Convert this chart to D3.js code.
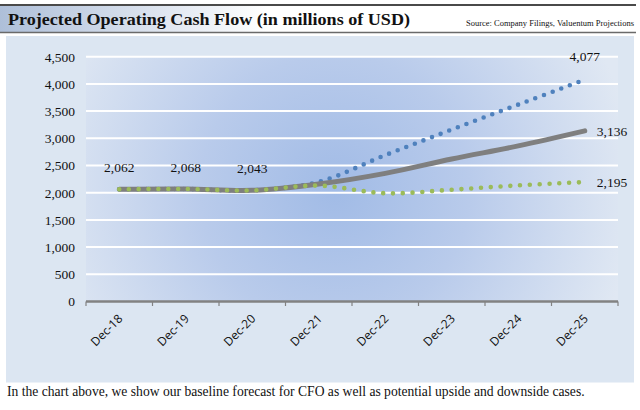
<!DOCTYPE html>
<html><head><meta charset="utf-8">
<script src="https://cdn.jsdelivr.net/npm/d3@7"></script>
<style>html,body{margin:0;padding:0;background:#fff;}svg{display:block;}</style>
</head><body>
<svg id="c" width="640" height="410"></svg>
<script>
const categories = ["Dec-18","Dec-19","Dec-20","Dec-21","Dec-22","Dec-23","Dec-24","Dec-25"];
const baseCase = [2062, 2068, 2043, 2160, 2355, 2620, 2860, 3136];
const upsideCase = [2062, 2068, 2043, 2200, 2690, 3160, 3620, 4077];
const downsideCase = [2062, 2068, 2043, 2130, 1990, 2055, 2135, 2195];
const yTicks = [0, 500, 1000, 1500, 2000, 2500, 3000, 3500, 4000, 4500];
const titleText = "Projected Operating Cash Flow (in millions of USD)";
const sourceText = "Source: Company Filings, Valuentum Projections";
const captionText = "In the chart above, we show our baseline forecast for CFO as well as potential upside and downside cases.";

const svg = d3.select("#c");
const defs = svg.append("defs");
const hg = defs.append("linearGradient").attr("id","hg").attr("x1","0").attr("x2","1").attr("y1","0").attr("y2","0");
hg.append("stop").attr("offset","0").attr("stop-color","#aebfd9");
hg.append("stop").attr("offset","0.42").attr("stop-color","#ffffff");
hg.append("stop").attr("offset","1").attr("stop-color","#ffffff");
const rg = defs.append("radialGradient").attr("id","rg").attr("gradientUnits","userSpaceOnUse")
  .attr("cx",335).attr("cy",190).attr("r",300).attr("fx",335).attr("fy",190);
rg.append("stop").attr("offset","0").attr("stop-color","#a1bbe6");
rg.append("stop").attr("offset","0.45").attr("stop-color","#b9cbeb");
rg.append("stop").attr("offset","1").attr("stop-color","#e0e8f3");

// header
svg.append("rect").attr("x",0).attr("y",5).attr("width",636).attr("height",27).attr("fill","url(#hg)");
svg.append("line").attr("x1",0).attr("x2",636).attr("y1",5).attr("y2",5).attr("stroke","#4a4a4a").attr("stroke-width",2);
svg.append("line").attr("x1",0).attr("x2",636).attr("y1",32.5).attr("y2",32.5).attr("stroke","#6a6a6a").attr("stroke-width",1.5);
svg.append("text").attr("x",8).attr("y",25).attr("font-family","Liberation Serif").attr("font-weight","bold")
  .attr("font-size",17.5).attr("fill","#111").attr("textLength",402).attr("lengthAdjust","spacingAndGlyphs").text(titleText);
svg.append("text").attr("x",634).attr("y",26).attr("text-anchor","end").attr("font-family","Liberation Serif")
  .attr("font-size",8).attr("fill","#111").attr("textLength",168).attr("lengthAdjust","spacingAndGlyphs").text(sourceText);

// panel
svg.append("rect").attr("x",6).attr("y",36).attr("width",628).attr("height",346.5).attr("fill","#dce6f2");

const x = d3.scaleBand().domain(categories).range([86, 618]);
const y = d3.scaleLinear().domain([0, 4500]).range([301.5, 56.7]);

svg.append("rect").attr("x",86).attr("y",y(4500)).attr("width",532).attr("height",y(0)-y(4500)).attr("fill","url(#rg)");

// gridlines
svg.append("g").selectAll("line").data(yTicks.filter(d=>d>0)).join("line")
  .attr("x1",86).attr("x2",618).attr("y1",d=>y(d)).attr("y2",d=>y(d))
  .attr("stroke","#ffffff").attr("stroke-width",2);

// y axis labels
const yAxis = d3.axisLeft(y).tickValues(yTicks).tickFormat(d3.format(",")).tickSize(0).tickPadding(11);
const gy = svg.append("g").attr("transform","translate(86,0)").call(yAxis);
gy.select(".domain").remove();
gy.selectAll("text").attr("font-family","Liberation Serif").attr("font-size",13.5).attr("fill","#111");

// x axis
const xAxis = d3.axisBottom(x).tickSize(0).tickPadding(0);
const gx = svg.append("g").attr("transform","translate(0,301.5)").call(xAxis);
gx.select(".domain").remove();
gx.selectAll("text").attr("font-family","Open Sans").attr("font-size",12).attr("fill","#111")
  .attr("text-anchor","end").attr("dy",0)
  .attr("transform", function(){ return "translate(4,18) rotate(-45)"; });
// axis line & ticks
svg.append("line").attr("x1",86).attr("x2",618).attr("y1",301.5).attr("y2",301.5).attr("stroke","#828282").attr("stroke-width",2.5);
const edges = categories.map(c=>x(c)).concat([x(categories[categories.length-1])+x.bandwidth()]);
svg.append("g").selectAll("line").data(edges).join("line")
  .attr("x1",d=>d).attr("x2",d=>d).attr("y1",301.5).attr("y2",306).attr("stroke","#828282").attr("stroke-width",1.2);

const cx = c => x(c) + x.bandwidth()/2;
const line = d3.line().x((d,i)=>cx(categories[i])).y(d=>y(d)).curve(d3.curveCatmullRom.alpha(0.5));

svg.append("path").datum(upsideCase).attr("d",line).attr("fill","none").attr("stroke","#4f81bd")
  .attr("stroke-width",4.6).attr("stroke-linecap","round").attr("stroke-dasharray","0 9.2");
svg.append("path").datum(baseCase).attr("d",line).attr("fill","none").attr("stroke","#7f7f7f")
  .attr("stroke-width",5).attr("stroke-linecap","round");
svg.append("path").datum(downsideCase).attr("d",line).attr("fill","none").attr("stroke","#9bbb59")
  .attr("stroke-width",4.6).attr("stroke-linecap","round").attr("stroke-dasharray","0 9.8");

// data labels
const lab = svg.append("g").attr("font-family","Liberation Serif").attr("font-size",13.5).attr("fill","#111");
const fmt = d3.format(",");
[0,1,2].forEach(i=>{
  lab.append("text").attr("x",cx(categories[i])).attr("y",y(baseCase[i])-17).attr("text-anchor","middle").text(fmt(baseCase[i]));
});
const last = categories.length-1;
lab.append("text").attr("x",cx(categories[last])).attr("y",y(upsideCase[last])-19).attr("text-anchor","middle").text(fmt(upsideCase[last]));
lab.append("text").attr("x",cx(categories[last])+12).attr("y",y(baseCase[last])+5).attr("text-anchor","start").text(fmt(baseCase[last]));
lab.append("text").attr("x",cx(categories[last])+12).attr("y",y(downsideCase[last])+5).attr("text-anchor","start").text(fmt(downsideCase[last]));

// caption
svg.append("text").attr("x",7).attr("y",396).attr("font-family","Liberation Serif").attr("font-size",13.6).attr("fill","#111")
  .text(captionText);
</script>
</body></html>
